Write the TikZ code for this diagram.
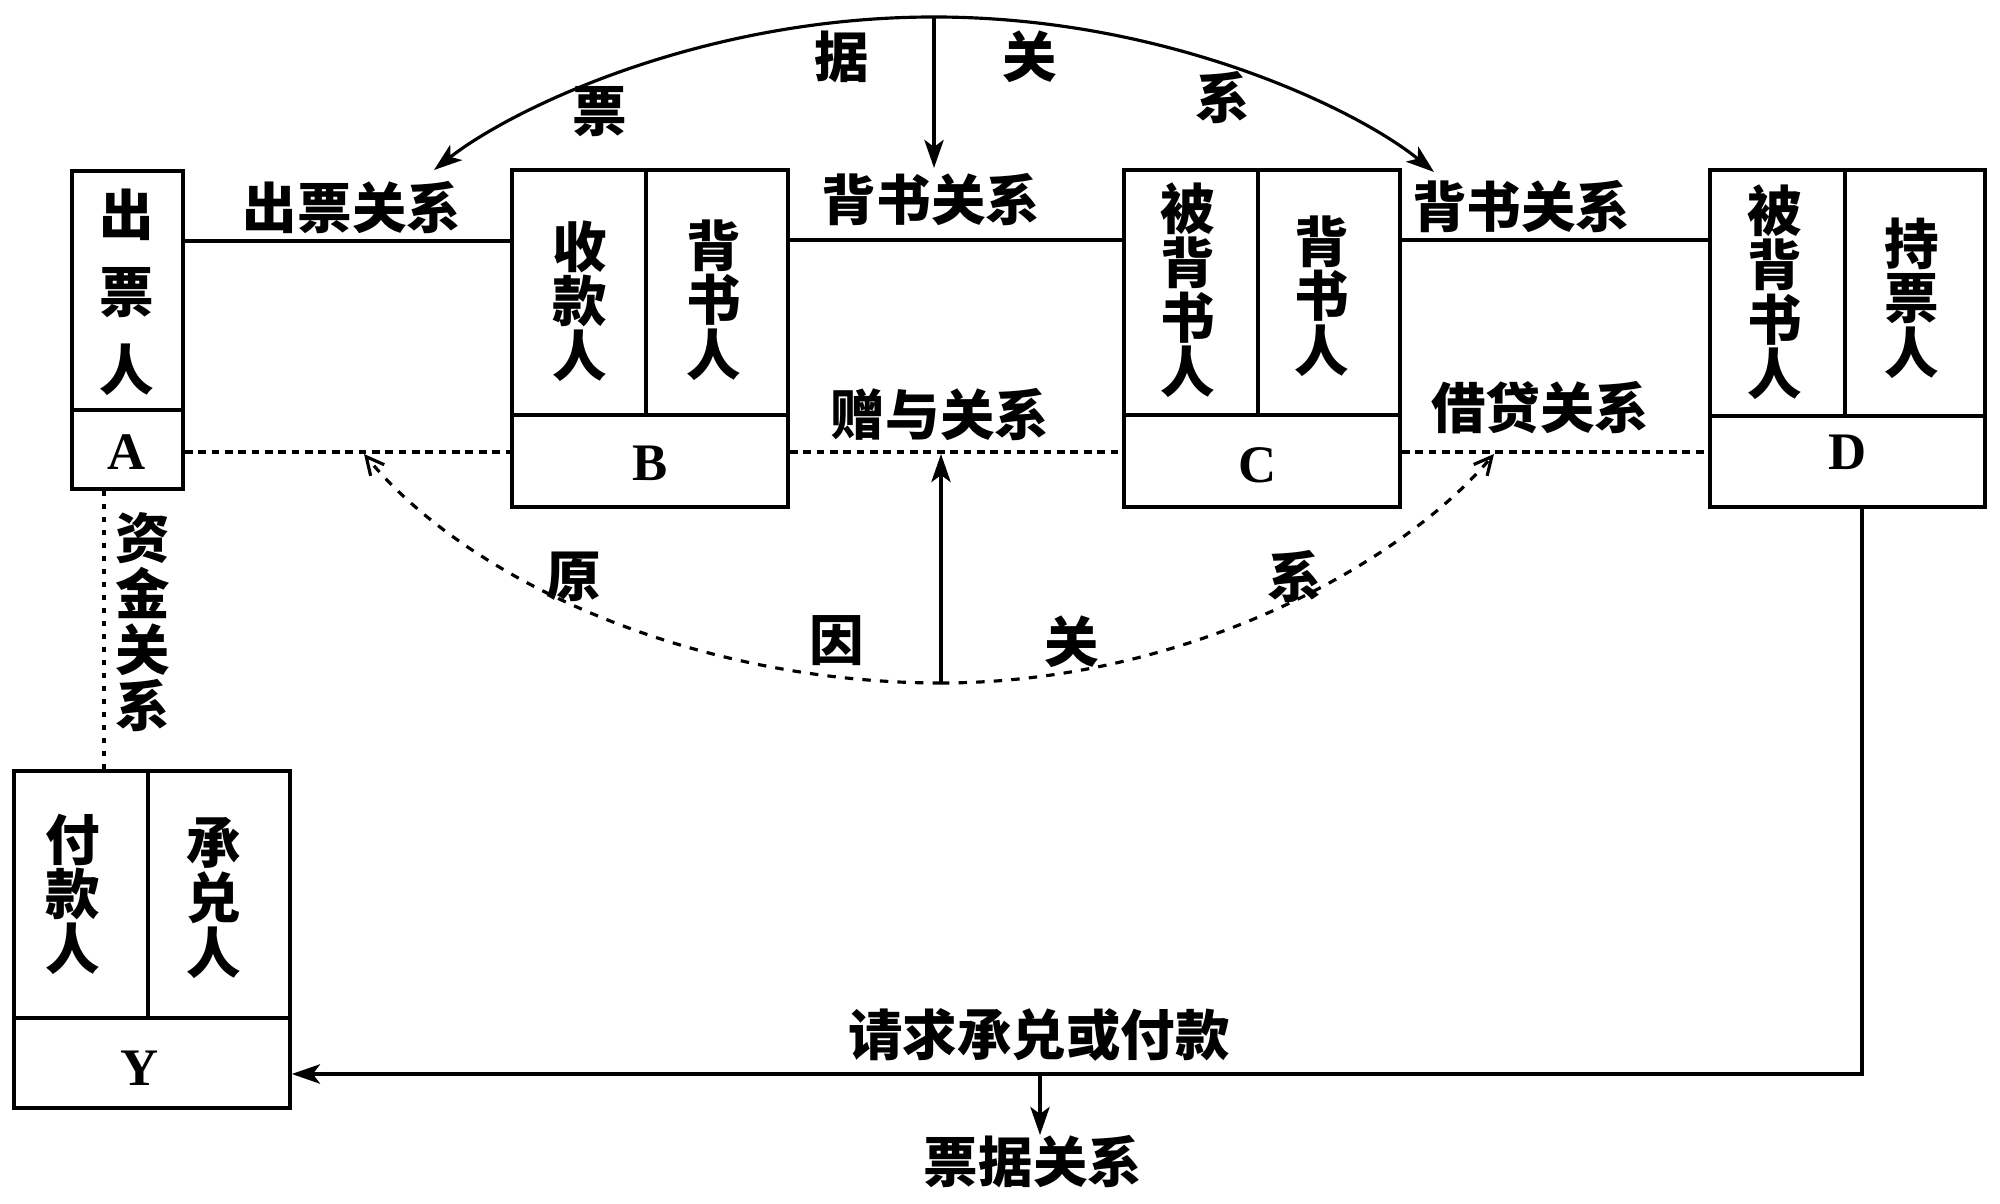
\documentclass[tikz,border=0pt]{standalone}
\usepackage{fontspec}
\newfontfamily\cn{Noto Sans CJK SC}
\newfontfamily\lat{Liberation Serif}
\usetikzlibrary{arrows.meta}
\begin{document}
\begin{tikzpicture}[x=0.01cm,y=-0.01cm,
  cell/.style={draw, line width=1pt, rectangle, inner sep=0pt},
  cn/.style={font=\cn\bfseries\fontsize{15.5}{15.5}\selectfont, inner sep=0pt, align=center},
  cnwide/.style={font=\cn\bfseries\fontsize{15.5}{22}\selectfont, inner sep=0pt, align=center},
  letter/.style={font=\lat\bfseries\fontsize{15}{15}\selectfont, inner sep=0pt},
  link/.style={line width=0.9pt},
  dotline/.style={line width=1.1pt, dash pattern=on 2.2pt off 1.6pt},
  vdot/.style={line width=1.1pt, dash pattern=on 1.5pt off 2.2pt},
  dashline/.style={line width=0.9pt, dash pattern=on 2.4pt off 2.6pt},
  arr/.style={-{Stealth[length=8pt,width=5.5pt,inset=2pt]}},
  barb/.style={-{Straight Barb[length=5pt,width=5pt]}}]
\useasboundingbox (0,0) rectangle (2000,1204);

% boxes
\node[cell, minimum width=1.11cm, minimum height=2.39cm] (Atop) at (127.5,290.5) {};
\node[cell, minimum width=1.11cm, minimum height=0.79cm] (Abot) at (127.5,449.5) {};
\node[cell, minimum width=1.34cm, minimum height=2.45cm] (Btl) at (579,292.5) {};
\node[cell, minimum width=1.42cm, minimum height=2.45cm] (Btr) at (717,292.5) {};
\node[cell, minimum width=2.76cm, minimum height=0.92cm] (Bbot) at (650,461) {};
\node[cell, minimum width=1.34cm, minimum height=2.45cm] (Ctl) at (1191,292.5) {};
\node[cell, minimum width=1.42cm, minimum height=2.45cm] (Ctr) at (1329,292.5) {};
\node[cell, minimum width=2.76cm, minimum height=0.92cm] (Cbot) at (1262,461) {};
\node[cell, minimum width=1.35cm, minimum height=2.46cm] (Dtl) at (1777.5,293) {};
\node[cell, minimum width=1.40cm, minimum height=2.46cm] (Dtr) at (1915,293) {};
\node[cell, minimum width=2.75cm, minimum height=0.91cm] (Dbot) at (1847.5,461.5) {};
\node[cell, minimum width=1.34cm, minimum height=2.47cm] (Ytl) at (81,894.5) {};
\node[cell, minimum width=1.42cm, minimum height=2.47cm] (Ytr) at (219,894.5) {};
\node[cell, minimum width=2.76cm, minimum height=0.90cm] (Ybot) at (152,1063) {};

% box texts
\node[cnwide] (tA) at (127,292) {出\\票\\人};
\node[letter] (lA) at (127,452) {A};
\node[cn] (tB1) at (580,301) {收\\款\\人};
\node[cn] (tB2) at (714,300) {背\\书\\人};
\node[letter] (lB) at (650,463) {B};
\node[cn] (tC1) at (1188,290) {被\\背\\书\\人};
\node[cn] (tC2) at (1322,296) {背\\书\\人};
\node[letter] (lC) at (1258,465) {C};
\node[cn] (tD1) at (1775,292) {被\\背\\书\\人};
\node[cn] (tD2) at (1912,298) {持\\票\\人};
\node[letter] (lD) at (1848,452) {D};
\node[cn] (tY1) at (73,894) {付\\款\\人};
\node[cn] (tY2) at (214,898) {承\\兑\\人};
\node[letter] (lY) at (140,1068) {Y};

% labels
\node[cn] (lcp) at (352,208) {出票关系};
\node[cn] (lbs1) at (931,200) {背书关系};
\node[cn] (lbs2) at (1521,207) {背书关系};
\node[cn] (lzy) at (940,415) {赠与关系};
\node[cn] (ljd) at (1540,408) {借贷关系};
\node[cn] (t1) at (600,112) {票};
\node[cn] (t2) at (842,57) {据};
\node[cn] (t3) at (1030,57) {关};
\node[cn] (t4) at (1223,98) {系};
\node[cn] (b1) at (574,577) {原};
\node[cn] (b2) at (837,641) {因};
\node[cn] (b3) at (1072,642) {关};
\node[cn] (b4) at (1295,577) {系};
\node[font=\cn\bfseries\fontsize{15.5}{15.9}\selectfont, inner sep=0pt, align=center] (lzj) at (143,622) {资\\金\\关\\系};
\node[cn] (lqq) at (1039,1035) {请求承兑或付款};
\node[cn] (lpj) at (1033,1162) {票据关系};

% coordinates
\coordinate (topapex) at (934,17);
\coordinate (botapex) at (941,683);
\coordinate (tipM) at (934,168);
\coordinate (tipL) at (434,170);
\coordinate (tipR) at (1434,172);
\coordinate (btipM) at (941,454);
\coordinate (btipL) at (364,454);
\coordinate (btipR) at (1494,454);
\coordinate (corner) at (1862,1074);

% connectors
\draw[link] (Atop.east |- 0,241) -- (Btl.west |- 0,241);
\draw[link] (Btr.east |- 0,240) -- (Ctl.west |- 0,240);
\draw[link] (Ctr.east |- 0,240) -- (Dtl.west |- 0,240);
\draw[dotline] (Abot.east |- 0,452) -- (Bbot.west |- 0,452);
\draw[dotline] (Bbot.east |- 0,452) -- (Cbot.west |- 0,452);
\draw[dotline] (Cbot.east |- 0,452) -- (Dbot.west |- 0,452);
\draw[vdot] (Abot.south -| 104,0) -- (Ytl.north -| 104,0);

\draw[link,arr] (topapex) -- (tipM);
\draw[link,arr] (topapex) .. controls (700,17) and (510,110) .. (tipL);
\draw[link,arr] (topapex) .. controls (1168,17) and (1358,110) .. (tipR);
\draw[link,arr] (botapex) -- (btipM);
\draw[dashline,barb] (botapex) .. controls (700,683) and (472,585) .. (btipL);
\draw[dashline,barb] (botapex) .. controls (1180,683) and (1398,568) .. (btipR);

\draw[link,arr] (Dbot.south -| corner) -- (corner) -- (Ybot.east |- corner);
\draw[link,arr] (1040,1074) -- (lpj.north -| 1040,0);
\end{tikzpicture}
\end{document}
